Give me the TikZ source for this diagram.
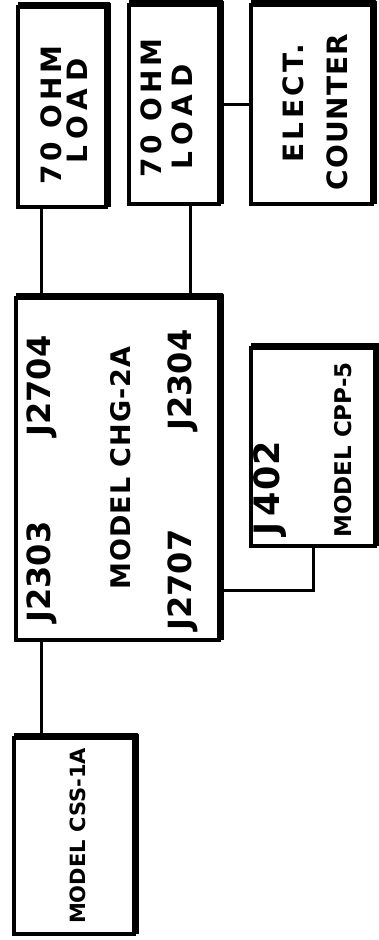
\documentclass[tikz,border=0pt]{standalone}
\usepackage{fontspec}
\setmainfont{DejaVu Sans}
\begin{document}
\begin{tikzpicture}[x=1pt,y=-1pt,
  unit/.style={draw,line width=3.6pt,inner sep=0pt},
  edge/.style={line width=3pt},
  shade/.style={line width=3.6pt,line join=round},
  tag/.style={rotate=90,font=\bfseries\fontsize{#1}{#1}\selectfont,inner sep=0pt},
  wide/.style={execute at begin node=\addfontfeature{LetterSpace=#1}}]
  \useasboundingbox (0,0) rectangle (378,940);
  % boxes
  \node[unit,minimum width=88pt,minimum height=200pt] (load1) at (62,107) {};
  \node[unit,minimum width=90pt,minimum height=199pt] (load2) at (174,104.5) {};
  \node[unit,minimum width=121pt,minimum height=199pt] (counter) at (311.5,104.5) {};
  \node[unit,minimum width=203pt,minimum height=342pt] (chg) at (117.5,469) {};
  \node[unit,minimum width=124pt,minimum height=198pt] (cpp) at (313,447) {};
  \node[unit,minimum width=120pt,minimum height=196pt] (css) at (74,836) {};
  \foreach \n in {load1,load2,counter,chg,cpp,css}
    \draw[shade] ([shift={(1.8pt,1.8pt)}]\n.north west) -- ([shift={(1.8pt,1.8pt)}]\n.north east)
      -- ([shift={(1.8pt,1.8pt)}]\n.south east);
  % labels
  \node[tag=28,wide=14] (l1a) at (51,115) {70 OHM};
  \node[tag=28,wide=24] (l1b) at (77,111) {LOAD};
  \node[tag=28,wide=14] (l2a) at (151,108) {70 OHM};
  \node[tag=28,wide=24] (l2b) at (182,117) {LOAD};
  \node[tag=28,wide=12] (ca) at (293,103) {ELECT.};
  \node[tag=28,wide=4] (cb) at (337,112) {COUNTER};
  \node[tag=32] (j2704) at (42,386) {J2704};
  \node[tag=32] (j2303) at (42,572) {J2303};
  \node[tag=27,wide=4] (chgname) at (121,468) {MODEL CHG-2A};
  \node[tag=32] (j2304) at (183,380) {J2304};
  \node[tag=32] (j2707) at (183,580) {J2707};
  \node[tag=35,wide=4] (j402) at (270,488) {J\,402};
  \node[tag=23] (cppname) at (343,450) {MODEL CPP-5};
  \node[tag=21] (cssname) at (78,836) {MODEL CSS-1A};
  % connectors
  \draw[edge] ([xshift=25pt]load1.south west) -- ([xshift=25pt]load1.south west |- chg.north);
  \draw[edge] ([xshift=-30pt]load2.south east) -- ([xshift=-30pt]load2.south east |- chg.north);
  \draw[edge] (load2.east) -- (counter.west);
  \draw[edge] ([xshift=27pt]chg.south west) -- ([xshift=27pt]chg.south west |- css.north);
  \draw[edge] ([yshift=51pt]chg.south east) -| (cpp.south);
\end{tikzpicture}
\end{document}
